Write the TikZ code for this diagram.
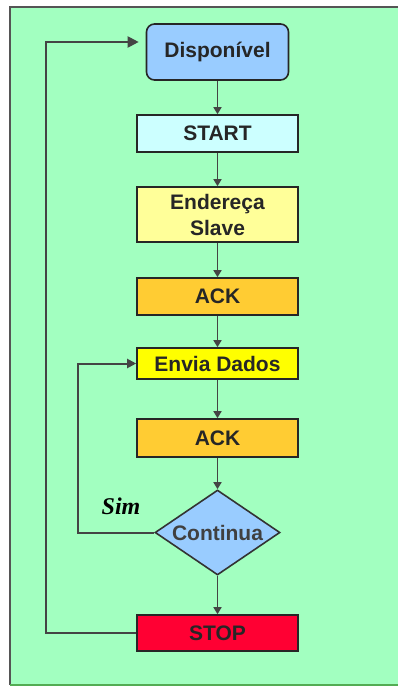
\documentclass[tikz,border=0pt]{standalone}
\usepackage{fontspec}
\setmainfont{Liberation Sans}
\newfontfamily\simfont{Liberation Serif}
\usetikzlibrary{arrows.meta,shapes.geometric}
\definecolor{bgGreen}{HTML}{A2FFC0}
\definecolor{frameGray}{HTML}{555555}
\definecolor{skyBlue}{HTML}{99CCFF}
\definecolor{paleCyan}{HTML}{CCFFFF}
\definecolor{paleYellow}{HTML}{FFFF99}
\definecolor{ackOrange}{HTML}{FFCC33}
\definecolor{brightYellow}{HTML}{FFFF00}
\definecolor{stopRed}{HTML}{FF0033}
\definecolor{lineGray}{HTML}{444444}
\tikzset{
  x=1pt, y=-1pt,
  stepbox/.style={draw=black!85, line width=1.6pt, minimum width=161pt,
    inner sep=0pt, font=\fontsize{21}{25}\selectfont\bfseries, text=black!85, align=center},
  flow/.style={draw=lineGray, line width=1.6pt, -{Triangle[length=7pt,width=8pt]}},
  loopline/.style={draw=lineGray, line width=2pt},
}
\begin{document}
\begin{tikzpicture}
\useasboundingbox (0,0) rectangle (397,687);
\fill[white] (0,0) rectangle (397,687);
% panel
\fill[bgGreen] (10,7) rectangle (400,685);
\draw[frameGray, line width=2.4pt] (10,685) -- (10,7) -- (400,7);
\draw[green!35!gray, line width=1.4pt] (10,685) -- (400,685);

% steps
\node[stepbox, fill=skyBlue, rounded corners=8pt, minimum width=142pt, minimum height=56pt] (disp) at (217.5,52) {Disponível};
\node[stepbox, fill=paleCyan, minimum height=37pt] (start) at (217.5,133.5) {START};
\node[stepbox, fill=paleYellow, minimum height=55pt, font=\fontsize{21}{26}\selectfont\bfseries] (addr) at (217.5,214.5) {Endereça\\Slave};
\node[stepbox, fill=ackOrange, minimum height=37pt] (ack1) at (217.5,296.5) {ACK};
\node[stepbox, fill=brightYellow, minimum height=31pt] (send) at (217.5,363.5) {Envia Dados};
\node[stepbox, fill=ackOrange, minimum height=38pt] (ack2) at (217.5,438) {ACK};
\node[diamond, aspect=1.5, draw=black!80, line width=1.6pt, fill=skyBlue, minimum width=125pt, minimum height=85pt,
      inner sep=0pt, font=\fontsize{21}{25}\selectfont\bfseries, text=black!75] (cont) at (217.5,532.5) {Continua};
\node[stepbox, fill=stopRed, minimum height=36pt] (stop) at (217.5,633) {STOP};

% main flow
\draw[flow] (disp) -- (start);
\draw[flow] (start) -- (addr);
\draw[flow] (addr) -- (ack1);
\draw[flow] (ack1) -- (send);
\draw[flow] (send) -- (ack2);
\draw[flow] (ack2) -- (cont);
\draw[flow] (cont) -- (stop);

% "Sim" branch back to sending
\draw[loopline, -{Triangle[length=9pt,width=9pt]}] (cont.west) -- (78,532.5) -- (78,363.5) -- (send.west);
\node[font=\simfont\fontsize{24}{24}\selectfont\bfseries\itshape, anchor=south] (sim) at (121,518) {Sim};

% return to idle after STOP
\draw[loopline, -{Triangle[length=11pt,width=11pt]}, shorten >=7pt] (stop.west) -- (46,633) -- (46,42) -- (disp.west |- 0,42);
\end{tikzpicture}
\end{document}
